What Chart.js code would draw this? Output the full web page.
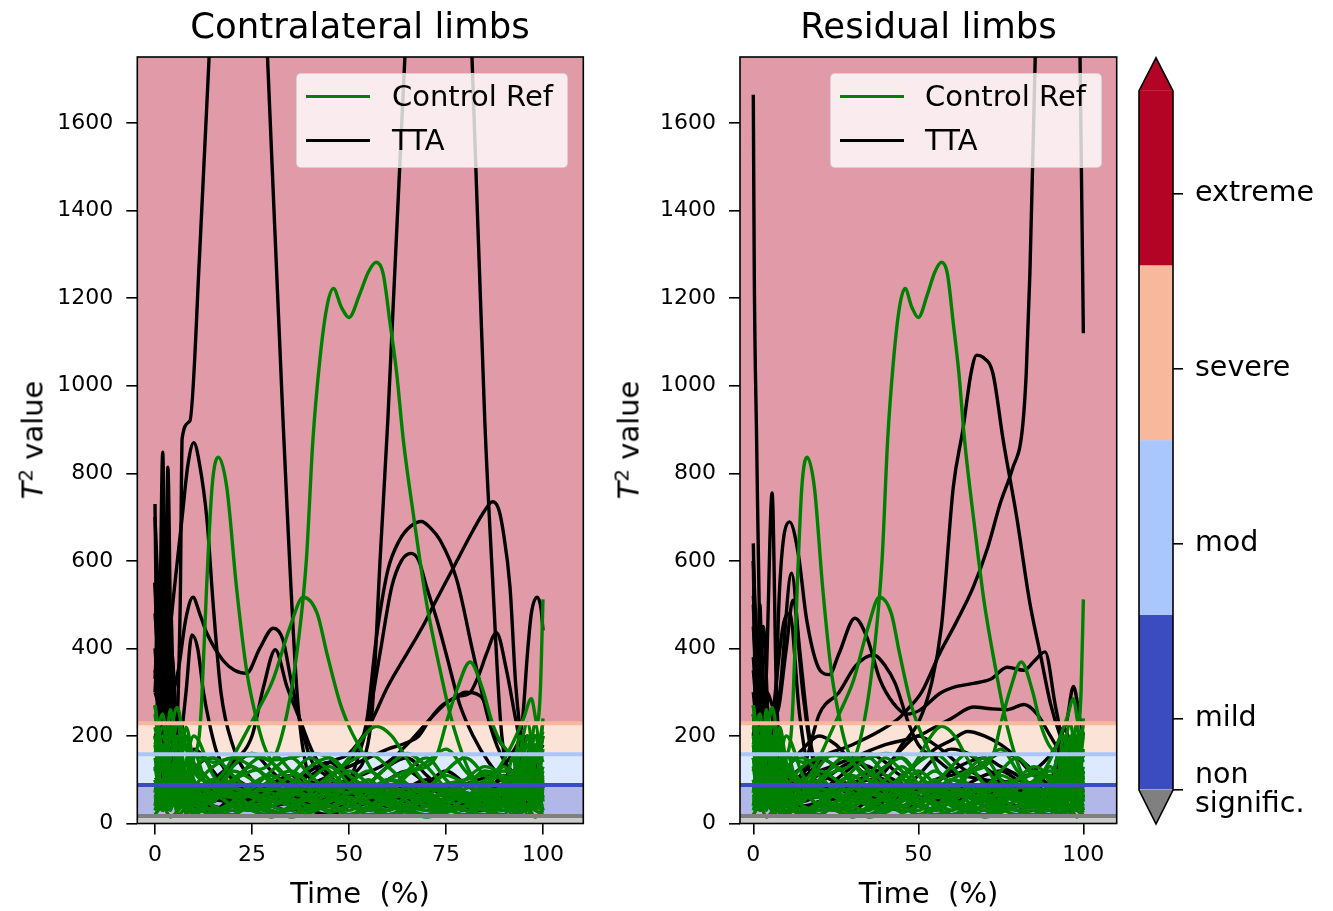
<!DOCTYPE html>
<html><head><meta charset="utf-8">
<script src="https://cdn.jsdelivr.net/npm/chart.js@4/dist/chart.umd.min.js"></script>
<style>
html,body{margin:0;padding:0;background:#fff;}
body{width:1333px;height:911px;position:relative;overflow:hidden;font-family:'DejaVu Sans',sans-serif;color:#000;}
.box{position:absolute;}
.txt{position:absolute;white-space:pre;line-height:1;font-family:'DejaVu Sans',sans-serif;}
.leg{position:absolute;background:rgba(255,255,255,0.8);border:1.5px solid rgba(204,204,204,0.8);border-radius:5px;box-sizing:border-box;}
.sw{position:absolute;height:3.5px;}
</style></head><body>
<div class="box" style="left:0;top:0;width:600px;height:911px"><canvas id="cL"></canvas></div>
<div class="box" style="left:600px;top:0;width:530px;height:911px"><canvas id="cR"></canvas></div>
<div class="box" style="left:1120px;top:0;width:213px;height:911px"><canvas id="cC"></canvas></div>

<div class="txt" style="font-size:35.5px;left:360px;top:8px;transform:translateX(-50%)">Contralateral limbs</div>
<div class="txt" style="font-size:35.5px;left:928.5px;top:8px;transform:translateX(-50%)">Residual limbs</div>
<div class="txt" style="font-size:29px;left:360px;top:878.5px;transform:translateX(-50%)">Time  (%)</div>
<div class="txt" style="font-size:29px;left:928.5px;top:878.5px;transform:translateX(-50%)">Time  (%)</div>
<div class="txt" style="font-size:29px;left:33px;top:440px;transform:translate(-50%,-50%) rotate(-90deg)"><i>T</i><span style="font-size:0.68em;position:relative;top:-0.5em">2</span> value</div>
<div class="txt" style="font-size:29px;left:629px;top:440px;transform:translate(-50%,-50%) rotate(-90deg)"><i>T</i><span style="font-size:0.68em;position:relative;top:-0.5em">2</span> value</div>

<div class="leg" style="left:296px;top:72.5px;width:272px;height:95.5px"></div>
<div class="sw" style="left:306px;top:94.5px;width:64px;background:#008000"></div>
<div class="sw" style="left:306px;top:138.5px;width:64px;background:#000"></div>
<div class="txt" style="font-size:29px;left:392px;top:82px">Control Ref</div>
<div class="txt" style="font-size:29px;left:392px;top:125.5px">TTA</div>

<div class="leg" style="left:830px;top:72.5px;width:272px;height:95.5px"></div>
<div class="sw" style="left:840px;top:94.5px;width:64px;background:#008000"></div>
<div class="sw" style="left:840px;top:138.5px;width:64px;background:#000"></div>
<div class="txt" style="font-size:29px;left:925px;top:82px">Control Ref</div>
<div class="txt" style="font-size:29px;left:925px;top:125.5px">TTA</div>

<script>
// ---------- shared axes / categories ----------
const timeGrid = [0,2,4,6,8,10,15,20,25,30,35,40,45,50,55,60,65,70,75,80,85,90,92,94,96,98,100];
const yTicks = [0,200,400,600,800,1000,1200,1400,1600];
const contraXTicks = [0,25,50,75,100];
const residXTicks = [0,50,100];
const bandBounds = [0,17,88,158,229,1751];
const bandFillColors = ['#cccccc','#b1b7e6','#dde9fe','#fce3d7','#e19ba8'];
const thresholdColors = ['#808080','#3b4cc0','#aac7fd','#f7b89c'];
const severityColors = ['#3b4cc0','#aac7fd','#f7b89c','#b40426'];
const severityTickPos = [0,0.41,1.41,2.41,3.41];
const severityLabels = [['non','signific.'],'mild','mod','severe','extreme'];

// ---------- Control Ref curves (same in both panels) ----------
const ctrlPeak1 = [[0,60],[5,45],[10,70],[15,85],[20,100],[25,120],[30,140],[34,250],[37,420],[39,600],[40.7,876],[42.5,1060],[44.3,1180],[46,1222],[48,1180],[50,1156],[52.8,1210],[55,1260],[57,1282],[58.8,1256],[60.6,1142],[62.3,1028],[64,876],[66.8,693],[70,503],[73.5,350],[76,252],[78,190],[81,120],[85,80],[90,70],[95,60],[100,70]];
const ctrlPeak2 = [[0,100],[4,80],[8,110],[10,150],[11.4,200],[12,274],[13.3,540],[14.7,768],[16.3,837],[18.5,768],[21,540],[23.6,350],[25.8,252],[28,180],[31,130],[35,100],[40,90],[50,70],[60,80],[70,60],[80,90],[90,70],[100,80]];
const ctrlPeak3 = [[0,40],[5,60],[10,50],[15,90],[18,120],[22,183],[26,250],[30.4,328],[34.8,449],[38.2,517],[41.8,480],[44.3,389],[47.7,275],[50,222],[53,170],[56,120],[60,90],[65,70],[70,80],[80,60],[90,80],[100,60]];
const ctrlPeak4 = [[0,50],[5,70],[10,60],[20,80],[30,60],[40,90],[50,70],[60,100],[65,120],[70,130],[72.8,160],[75,228],[77.8,305],[81.2,369],[84.5,305],[87,228],[89.5,180],[93,150],[97,120],[100,100]];
const ctrlEnd5 = [[0,80],[5,120],[10,90],[20,60],[30,80],[40,60],[50,90],[60,70],[70,60],[80,80],[88,120],[92,180],[95,240],[97,285],[98.5,230],[99.3,300],[100,512]];
const ctrlStart6 = [[0,270],[1,200],[2,150],[3.5,180],[5.7,265],[7.5,190],[10,120],[15,90],[20,70],[30,60],[40,80],[50,50],[60,70],[70,90],[80,60],[90,50],[100,70]];
const ctrlHump7 = [[0,30],[5,60],[10,40],[20,70],[30,50],[40,60],[45,100],[50,150],[53,190],[57,222],[61,200],[64,160],[67,120],[70,90],[75,70],[80,50],[90,70],[100,40]];
const ctrlMid8 = [[0,120],[5,200],[10,160],[15,140],[20,150],[25,155],[30,145],[35,150],[40,160],[45,150],[50,110],[55,80],[60,60],[70,80],[80,100],[90,120],[100,90]];

const ctrlLow1 = [250,120,60,90,40,30,55,80,60,40,70,90,60,50,80,60,40,70,50,90,60,40,80,120,60,90,200];
const ctrlLow2 = [180,60,220,80,50,70,40,30,50,70,40,30,60,90,50,30,60,40,80,50,30,70,40,90,150,60,120];
const ctrlLow3 = [120,200,90,40,110,60,30,50,90,110,80,50,30,40,70,100,80,40,30,60,90,110,60,30,80,200,90];
const ctrlLow4 = [90,40,150,230,70,40,90,60,30,20,40,70,100,80,40,20,30,60,90,70,40,30,90,160,230,120,60];
const ctrlLow5 = [60,100,40,120,180,90,60,100,130,90,50,30,50,90,120,90,50,30,40,80,120,90,40,60,100,40,240];
const ctrlLow6 = [200,80,130,60,30,120,150,110,70,40,30,60,40,20,40,70,120,150,100,60,40,60,120,60,30,150,100];
const ctrlLow7 = [40,150,60,200,90,50,20,40,70,100,120,90,60,40,30,50,70,50,30,40,70,50,30,110,180,70,130];
const ctrlLow8 = [150,60,90,30,140,200,110,60,40,60,90,130,150,110,70,40,30,40,60,100,130,100,60,40,90,230,50];
const ctrlLow9 = [30,90,180,110,60,30,70,120,100,60,40,30,50,70,90,130,160,130,80,50,40,30,70,200,120,60,170];
const ctrlLow10 = [220,130,40,70,220,140,80,40,30,50,80,60,40,70,100,60,40,30,50,70,50,40,150,80,40,100,30];
const ctrlLow11 = [100,30,70,160,40,80,130,150,130,100,60,40,80,120,90,50,30,70,120,150,110,70,40,130,60,180,140];
const ctrlLow12 = [70,180,120,50,90,160,40,30,50,80,110,150,120,80,50,30,60,90,60,30,20,50,90,60,200,110,70];
const ctrlLow13 = [180,250,90,130,50,20,60,90,140,160,120,70,40,30,60,100,90,60,30,40,80,130,100,50,70,30,90];
const ctrlLow14 = [50,70,260,140,200,100,70,40,30,40,60,100,130,90,40,20,40,80,110,90,60,30,50,170,90,140,230];
const ctrlLow15 = [130,40,100,180,70,130,90,60,80,120,150,110,70,50,30,60,110,140,170,120,70,40,120,70,150,50,110];
const ctrlLow16 = [270,150,50,90,120,60,30,20,40,30,20,40,30,60,40,20,30,20,40,30,20,50,30,20,40,30,20];
const ctrlLow17 = [20,40,15,30,50,25,35,20,45,30,15,25,40,20,35,50,30,15,25,40,30,20,45,25,35,15,30];
const ctrlLow18 = [60,30,80,20,40,70,25,45,30,15,35,55,25,40,20,30,45,60,35,20,40,55,30,60,20,45,25];
const ctrlLow19 = [100,60,30,150,20,60,100,70,40,25,20,35,60,90,70,45,25,20,30,55,80,60,20,40,110,30,80];
const ctrlLow20 = [160,220,110,60,140,90,50,130,160,140,100,80,110,140,160,130,90,60,40,30,45,80,110,140,70,160,210];

// ---------- TTA, contralateral limbs ----------
const contraTall1 = [[0,350],[3,200],[5,150],[6.5,500],[7,880],[9,920],[11.5,1300],[14,1760],[17,2500],[22,2800],[26,2300],[29,1750],[33,920],[36.6,300],[39,130],[43,80],[48,90],[52,120],[54,150],[56,260],[58,600],[60,920],[64.4,1750],[68,2600],[75,2800],[79,2300],[81.7,1750],[85,920],[87,560],[89,240],[91,110],[95,70],[100,90]];
const contraPeak2 = [[0,300],[2,250],[4,450],[7,700],[8.5,820],[10,870],[11.5,820],[13.4,693],[15,500],[17,300],[20,180],[25,100],[30,70],[40,60],[50,80],[60,60],[70,90],[80,70],[90,60],[100,80]];
const contraPeak3 = [[0,200],[3,250],[6,350],[8,470],[9.8,517],[11.5,480],[13.4,434],[17.5,373],[20.5,350],[23.6,343],[27,400],[30.5,446],[33,419],[35,330],[37.5,230],[40,150],[44,110],[50,80],[60,60],[70,70],[80,90],[90,80],[100,100]];
const contraPeak4 = [[0,100],[4,120],[6,150],[8,300],[9.5,431],[11,400],[12.5,300],[14,230],[16,161],[20,110],[25,80],[30,60],[40,50],[50,70],[60,90],[70,60],[80,50],[90,70],[100,60]];
const contraPeak5 = [[0,80],[10,60],[20,90],[30,70],[40,90],[45,110],[51.5,160],[54.6,236],[57,420],[60,578],[63,647],[66,680],[68.7,690],[71,675],[73.5,647],[77.8,556],[82,389],[86,236],[89,160],[93,110],[97,90],[100,100]];
const contraPeak6 = [[0,60],[10,80],[20,60],[30,80],[40,70],[50,100],[53,170],[55,236],[58,389],[61,540],[63.5,600],[66,617],[68,600],[70,540],[72.5,470],[75,389],[78.5,273],[82,200],[86,140],[90,100],[100,80]];
const contraPeak7 = [[0,70],[10,50],[20,70],[30,90],[40,110],[45,140],[50,160],[55,220],[60,313],[65,389],[69,450],[71.6,495],[77,586],[82,670],[85,715],[87,735],[88.5,720],[89.7,670],[91.5,540],[93,313],[95,160],[97,100],[100,80]];
const contraPeak8 = [[0,50],[10,70],[20,60],[30,50],[40,80],[50,100],[60,140],[66,190],[70,230],[75,275],[78,290],[81,297],[83.5,340],[85.5,389],[88,436],[90.6,350],[93,236],[95,150],[100,100]];
const contraEnd9 = [[0,90],[10,60],[20,80],[30,60],[40,70],[50,50],[60,80],[70,60],[80,90],[88,120],[92,160],[94.7,236],[96,389],[97,480],[98.5,517],[99.5,490],[100,441]];
const contraHump10 = [[0,60],[5,90],[10,70],[15,100],[20,140],[25,200],[28,313],[31,397],[34,313],[37.4,236],[40.8,160],[45,110],[50,70],[60,60],[70,80],[80,60],[90,70],[100,50]];
const contraSlow11 = [[0,40],[10,60],[20,50],[30,70],[40,90],[50,130],[55,150],[60,170],[65,185],[68,200],[71,240],[74,270],[77,285],[80,300],[84,290],[88,200],[92,150],[96,100],[100,80]];
const contraSpikeA = [[0,730],[0.8,200],[2,848],[2.8,300],[3.3,814],[4.5,150],[6,100],[8,70],[12,50],[20,60],[30,40],[40,60],[50,40],[60,50],[70,40],[80,60],[90,50],[100,60]];
const contraSpikeB = [[0,550],[1,300],[1.6,600],[2.5,250],[4,500],[5,200],[7,90],[10,60],[20,80],[30,60],[40,40],[50,60],[60,40],[70,50],[80,40],[90,60],[100,40]];
const contraSpikeC = [[0,330],[1,500],[2,200],[3,420],[4.5,380],[6,150],[8,100],[12,70],[20,50],[30,70],[40,50],[50,40],[60,60],[70,50],[80,40],[90,50],[100,70]];
const contraLow1 = [400,150,80,60,40,30,50,70,90,60,40,30,50,80,60,40,30,50,70,50,40,60,90,120,80,60,100];
const contraLow2 = [550,200,120,90,60,50,40,30,60,90,110,80,60,40,30,50,80,100,70,40,30,50,70,40,150,200,80];
const contraLow3 = [300,600,200,100,70,120,150,100,60,40,30,50,70,60,40,30,60,90,120,90,60,40,30,80,50,120,200];
const contraLow4 = [200,100,400,150,90,60,80,130,160,120,80,50,40,60,90,130,150,110,70,40,30,60,120,80,40,60,30];
const contraLow5 = [480,250,90,50,100,170,120,60,30,50,80,120,140,100,60,40,50,60,40,30,60,110,90,150,200,100,60];
const contraLow6 = [700,300,120,80,60,40,30,60,80,70,50,30,20,40,70,100,120,90,60,50,80,100,60,40,90,140,180];

// ---------- TTA, residual limbs ----------
const residTall1 = [[0,1665],[0.3,1250],[1,880],[2,400],[3,220],[5,120],[8,90],[12,70],[20,60],[30,50],[40,70],[50,60],[60,50],[70,70],[80,60],[90,80],[100,60]];
const residRise2 = [[0,80],[5,120],[10,90],[20,150],[30,180],[38,210],[44,240],[46.5,259],[51,300],[56.5,389],[61.5,460],[66.7,541],[71,630],[74.8,731],[78.5,810],[81.5,900],[82.7,1030],[83.8,1256],[85.4,1745],[88,2500],[94,2900],[97.5,2600],[99,1745],[100,1120]];
const residPeak3 = [[0,60],[10,80],[20,60],[30,90],[40,120],[45,180],[50,230],[54,320],[57,450],[60.6,769],[63.5,900],[66,1030],[67.7,1070],[69.6,1065],[72.6,1028],[75.7,876],[79.8,700],[83.8,503],[86.9,389],[90,275],[93,200],[97,130],[100,100]];
const residPeak4 = [[0,150],[3,100],[6.6,160],[7,313],[8,541],[11,689],[13.6,617],[16.2,464],[20.2,350],[23,340],[26,389],[30.8,469],[34.4,426],[38.4,328],[42.4,275],[46.5,250],[50.5,259],[56.5,297],[61.6,313],[66.7,320],[72,330],[76.9,357],[82,350],[85,370],[88.4,392],[91.5,270],[94.5,160],[97,100],[100,80]];
const residHump5 = [[0,50],[10,70],[15,120],[20,250],[26,300],[31,360],[36.4,385],[40,360],[43,320],[47,230],[50,180],[55,150],[60,120],[70,100],[80,90],[90,70],[100,60]];
const residMid6 = [[0,80],[10,100],[20,120],[30,150],[40,180],[50,200],[55,220],[60,240],[66.7,266],[72,262],[77,260],[82,272],[86,250],[90,200],[94,150],[100,100]];
const residEnd7 = [[0,70],[10,60],[20,90],[30,70],[40,60],[50,80],[60,60],[70,90],[80,100],[88,140],[92,180],[95,236],[97,313],[99,236],[100,200]];
const residSpikeA = [[0,640],[1,300],[2,500],[3,200],[4,350],[5.7,755],[7,300],[9,150],[12,100],[20,80],[30,60],[40,80],[50,60],[60,70],[70,50],[80,70],[90,60],[100,50]];
const residSpikeB = [[0,500],[1.5,250],[3,450],[5,200],[8,300],[11.6,572],[14,400],[17,200],[20,120],[30,90],[40,70],[50,90],[60,70],[70,60],[80,80],[90,70],[100,60]];
const residSpikeC = [[0,350],[2,200],[4,300],[7,250],[10,400],[12,510],[15,300],[18,150],[25,100],[35,80],[45,60],[55,80],[65,60],[75,80],[85,60],[95,80],[100,60]];
const residSpikeD = [[0,600],[1,150],[2.5,400],[4,100],[6,250],[9,450],[11,480],[14,250],[17,120],[25,80],[35,60],[45,90],[55,70],[65,90],[75,60],[85,80],[95,60],[100,80]];
const residLow1 = [300,150,90,60,80,120,170,200,180,140,110,130,170,200,180,150,120,140,160,150,120,90,140,200,160,110,90];
const residLow2 = [450,200,120,90,70,60,100,140,160,150,120,90,80,110,150,170,160,130,100,80,60,90,150,220,180,100,70];
const residLow3 = [200,350,150,80,50,40,60,90,120,140,130,110,90,70,90,120,140,150,130,110,80,60,40,70,120,200,150];
const residLow4 = [600,250,100,70,50,90,130,150,130,100,70,50,60,80,100,110,120,100,80,60,50,40,60,100,80,60,120];
const residLow5 = [380,180,250,120,90,60,40,50,70,90,110,100,80,60,50,70,90,110,120,100,90,70,90,60,40,80,60];
const residLow6 = [250,100,60,40,30,50,80,110,100,80,60,40,30,50,70,60,40,30,50,70,90,110,80,50,70,40,30];
const residLow7 = [520,300,150,200,130,80,50,70,100,130,160,140,110,140,170,190,210,200,180,150,110,90,130,180,150,100,60];
const residLow8 = [150,80,50,30,60,40,30,50,40,30,50,40,60,40,30,50,40,60,50,40,30,60,80,50,30,60,40];

// ---------- helpers ----------
const fromPairs = arr => arr.map(([x, y]) => ({x, y}));
const fromGrid = vals => timeGrid.map((x, i) => ({x, y: vals[i]}));

const controlCurves = [
  ...[ctrlPeak1, ctrlPeak2, ctrlPeak3, ctrlPeak4, ctrlEnd5, ctrlStart6, ctrlHump7, ctrlMid8].map(fromPairs),
  ...[ctrlLow1, ctrlLow2, ctrlLow3, ctrlLow4, ctrlLow5, ctrlLow6, ctrlLow7, ctrlLow8, ctrlLow9, ctrlLow10,
      ctrlLow11, ctrlLow12, ctrlLow13, ctrlLow14, ctrlLow15, ctrlLow16, ctrlLow17, ctrlLow18, ctrlLow19, ctrlLow20].map(fromGrid)
];
const contraCurves = [
  ...[contraTall1, contraPeak2, contraPeak3, contraPeak4, contraPeak5, contraPeak6, contraPeak7, contraPeak8,
      contraEnd9, contraHump10, contraSlow11, contraSpikeA, contraSpikeB, contraSpikeC].map(fromPairs),
  ...[contraLow1, contraLow2, contraLow3, contraLow4, contraLow5, contraLow6].map(fromGrid)
];
const residCurves = [
  ...[residTall1, residRise2, residPeak3, residPeak4, residHump5, residMid6, residEnd7,
      residSpikeA, residSpikeB, residSpikeC, residSpikeD].map(fromPairs),
  ...[residLow1, residLow2, residLow3, residLow4, residLow5, residLow6, residLow7, residLow8].map(fromGrid)
];

const LINE_W = 3.4;

function buildDatasets(blackCurves) {
  const ds = [];
  thresholdColors.forEach((c, i) => ds.push({
    data: [{x: -10, y: bandBounds[i + 1]}, {x: 120, y: bandBounds[i + 1]}],
    borderColor: c, borderWidth: 4, fill: false, order: 0, tension: 0
  }));
  controlCurves.forEach((d, i) => ds.push({
    label: i === 0 ? 'Control Ref' : '', data: d, borderColor: '#008000', borderWidth: LINE_W,
    fill: false, order: 1, cubicInterpolationMode: 'monotone'
  }));
  blackCurves.forEach((d, i) => ds.push({
    label: i === 0 ? 'TTA' : '', data: d, borderColor: '#000000', borderWidth: LINE_W,
    fill: false, order: 2, cubicInterpolationMode: 'monotone'
  }));
  bandFillColors.forEach((c, i) => ds.push({
    data: [{x: -10, y: bandBounds[i + 1]}, {x: 120, y: bandBounds[i + 1]}],
    borderColor: 'rgba(0,0,0,0)', borderWidth: 1, backgroundColor: c,
    fill: {value: bandBounds[i]}, order: 3, tension: 0
  }));
  return ds;
}

const spinePlugin = {
  id: 'spines',
  afterDraw(chart) {
    const {ctx, chartArea: a} = chart;
    ctx.save();
    ctx.strokeStyle = '#000';
    ctx.lineWidth = 1.6;
    ctx.strokeRect(a.left, a.top, a.right - a.left, a.bottom - a.top);
    ctx.restore();
  }
};

function panelOptions(xMin, xMax, xTicks, yWidth, padRight) {
  return {
    responsive: true, maintainAspectRatio: false, animation: false,
    layout: {padding: {left: 0, right: padRight, top: 57, bottom: 27.5}},
    plugins: {legend: {display: false}, tooltip: {enabled: false}, title: {display: false}},
    elements: {point: {radius: 0, hoverRadius: 0}, line: {borderCapStyle: 'butt', borderJoinStyle: 'round'}},
    events: [],
    scales: {
      x: {
        type: 'linear', min: xMin, max: xMax,
        afterBuildTicks: s => { s.ticks = xTicks.map(v => ({value: v})); },
        afterFit: s => { s.height = 60; },
        ticks: {autoSkip: false, maxRotation: 0, padding: 8, color: '#000',
                font: {family: 'DejaVu Sans', size: 22}, callback: v => String(v)},
        grid: {drawOnChartArea: false, drawTicks: true, tickLength: 11, color: '#000', lineWidth: 1.6},
        border: {display: false}
      },
      y: {
        type: 'linear', min: 0, max: 1751,
        afterBuildTicks: s => { s.ticks = yTicks.map(v => ({value: v})); },
        afterFit: s => { s.width = yWidth; },
        ticks: {autoSkip: false, padding: 13, color: '#000',
                font: {family: 'DejaVu Sans', size: 22}, callback: v => String(v)},
        grid: {drawOnChartArea: false, drawTicks: true, tickLength: 11, color: '#000', lineWidth: 1.6},
        border: {display: false}
      }
    }
  };
}

new Chart(document.getElementById('cL'), {
  type: 'line',
  data: {datasets: buildDatasets(contraCurves)},
  options: panelOptions(-4.56, 110.39, contraXTicks, 137.3, 16.7),
  plugins: [spinePlugin]
});

new Chart(document.getElementById('cR'), {
  type: 'line',
  data: {datasets: buildDatasets(residCurves)},
  options: panelOptions(-4.03, 110.1, residXTicks, 140, 13.3),
  plugins: [spinePlugin]
});

// ---------- colour bar ----------
const colorbarShape = {
  id: 'cbShape',
  afterDatasetsDraw(chart) {
    const {ctx, chartArea: a, scales: {y}} = chart;
    const cx = (a.left + a.right) / 2;
    const yTop = y.getPixelForValue(4), yApexT = y.getPixelForValue(y.max);
    const yBot = y.getPixelForValue(0), yApexB = y.getPixelForValue(y.min);
    ctx.save();
    ctx.fillStyle = severityColors[3];
    ctx.beginPath(); ctx.moveTo(a.left, yTop); ctx.lineTo(cx, yApexT); ctx.lineTo(a.right, yTop); ctx.closePath(); ctx.fill();
    ctx.fillStyle = '#808080';
    ctx.beginPath(); ctx.moveTo(a.left, yBot); ctx.lineTo(cx, yApexB); ctx.lineTo(a.right, yBot); ctx.closePath(); ctx.fill();
    ctx.strokeStyle = '#000'; ctx.lineWidth = 1.6; ctx.lineJoin = 'miter';
    ctx.beginPath();
    ctx.moveTo(a.left, yTop); ctx.lineTo(cx, yApexT); ctx.lineTo(a.right, yTop);
    ctx.lineTo(a.right, yBot); ctx.lineTo(cx, yApexB); ctx.lineTo(a.left, yBot); ctx.closePath();
    ctx.stroke();
    ctx.restore();
  }
};

new Chart(document.getElementById('cC'), {
  type: 'bar',
  data: {
    labels: ['severity'],
    datasets: severityColors.map(c => ({data: [1], backgroundColor: c, borderWidth: 0, barPercentage: 1, categoryPercentage: 1}))
  },
  options: {
    responsive: true, maintainAspectRatio: false, animation: false, events: [],
    layout: {padding: {left: 19, right: 0, top: 57.8, bottom: 87}},
    plugins: {legend: {display: false}, tooltip: {enabled: false}},
    scales: {
      x: {type: 'category', display: false, stacked: true},
      y: {
        type: 'linear', position: 'right', stacked: true, min: -0.194, max: 4.189,
        afterBuildTicks: s => { s.ticks = severityTickPos.map(v => ({value: v})); },
        afterFit: s => { s.width = 160; },
        ticks: {autoSkip: false, padding: 12, color: '#000', font: {family: 'DejaVu Sans', size: 28.5, lineHeight: 1},
                callback: (v, i) => severityLabels[i]},
        grid: {drawOnChartArea: false, drawTicks: true, tickLength: 10, color: '#000', lineWidth: 1.6},
        border: {display: false}
      }
    }
  },
  plugins: [colorbarShape]
});
</script>
</body></html>
